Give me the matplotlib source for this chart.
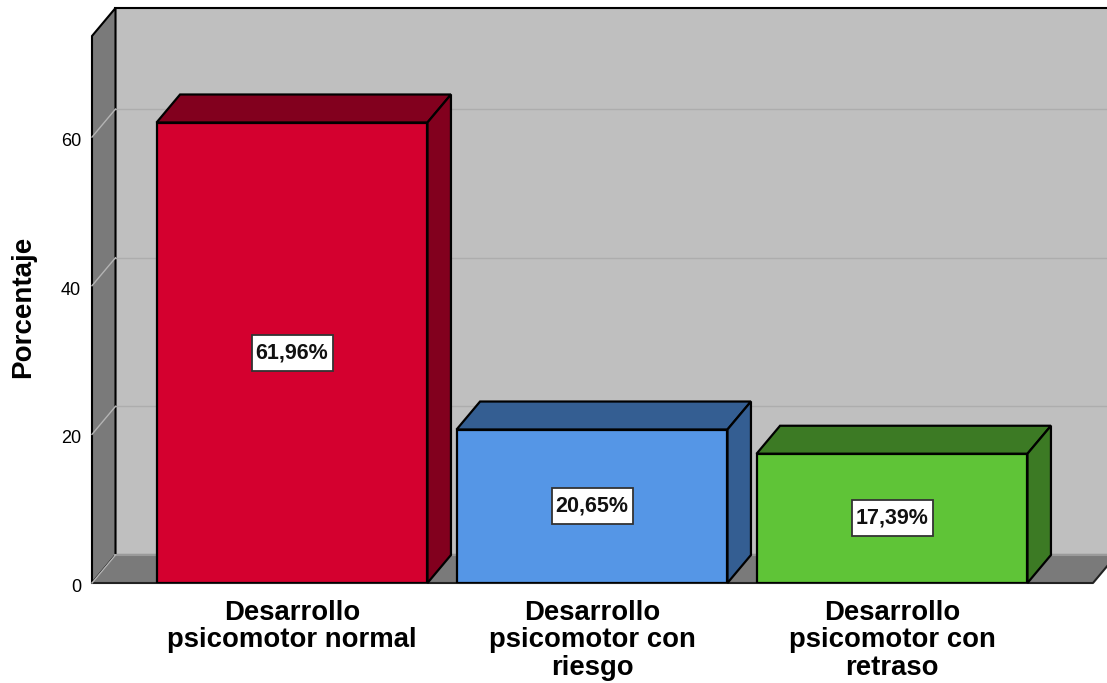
import matplotlib
matplotlib.use("Agg")
import matplotlib.pyplot as plt
from matplotlib.patches import Rectangle
from matplotlib.transforms import ScaledTranslation

plt.rcParams["font.family"] = ["Liberation Sans", "DejaVu Sans"]

categories = ["Desarrollo\npsicomotor normal", "Desarrollo\npsicomotor con\nriesgo", "Desarrollo\npsicomotor con\nretraso"]
values = [61.96, 20.65, 17.39]
labels = ["61,96%", "20,65%", "17,39%"]
front_colors = ["#d4002f", "#5596e6", "#5fc437"]
dark_colors = ["#82001e", "#345e92", "#3c7a24"]
y_ticks = [0, 20, 40, 60]

W, H = 1107, 683
fig = plt.figure(figsize=(W / 100, H / 100), dpi=100)
ax = fig.add_axes([92 / W, 1 - 583 / H, (1093 - 92) / W, (583 - 36) / H])

xmin, xmax = -0.6667, 2.67
ymin, ymax = 0, 73.6
# depth of the fake 3d box, in data units
dx = 23.5 / 300
dy = 28 / 7.43
bar_w = 0.903
box_w = 81 / 300
box_h = 36 / 7.43

wall = "#bfbfbf"
side = "#7a7a7a"

# back wall, left wall, floor
ax.fill([xmin + dx, xmax + dx, xmax + dx, xmin + dx], [dy, dy, ymax + dy, ymax + dy],
        color=wall, ec="black", lw=1.5, clip_on=False, zorder=1)
ax.fill([xmin, xmin + dx, xmin + dx, xmin], [ymin, dy, ymax + dy, ymax],
        fc=side, ec="black", lw=1.5, clip_on=False, zorder=2)
ax.fill([xmin, xmax, xmax + dx, xmin + dx], [ymin, ymin, dy, dy],
        fc=side, ec="none", clip_on=False, zorder=2)
ax.plot([xmin + dx, xmax + dx], [dy, dy], color="#9a9a9a", lw=1.5, clip_on=False, zorder=3)
ax.plot([xmin, xmax, xmax + dx], [0, 0, dy], color="#222222", lw=1.5, clip_on=False, zorder=3)

for t in y_ticks[1:]:
    ax.plot([xmin + dx, xmax + dx], [t + dy, t + dy], color="#adadad", lw=1, clip_on=False, zorder=3)
for t in y_ticks:
    ax.plot([xmin, xmin + dx], [t, t + dy], color="#b4b4b4", lw=1, clip_on=False, zorder=3)

for i, v in enumerate(values):
    l, r = i - bar_w / 2, i + bar_w / 2
    ax.bar(i, v, width=bar_w, color=front_colors[i], edgecolor="black", linewidth=1.6, zorder=6)
    ax.fill([l, l + dx, r + dx, r], [v, v + dy, v + dy, v], fc=dark_colors[i], ec="black",
            lw=1.6, clip_on=False, zorder=5)
    ax.fill([r, r + dx, r + dx, r], [0, dy, v + dy, v], fc=dark_colors[i], ec="black",
            lw=1.6, clip_on=False, zorder=5)
    ax.add_patch(Rectangle((i - box_w / 2, v / 2 - box_h / 2), box_w, box_h, fc="white",
                           ec="#333333", lw=1.3, zorder=7))
    ax.text(i, v / 2, labels[i], ha="center", va="center", fontsize=15.5, fontweight="bold",
            color="#111111", zorder=8)

ax.set_xlim(xmin, xmax)
ax.set_ylim(ymin, ymax)
ax.set_xticks(range(len(categories)))
ax.set_xticklabels(categories, fontsize=19.8, fontweight="bold", linespacing=1.08)
ax.set_yticks(y_ticks)
ax.tick_params(axis="x", length=0, pad=12)
ax.tick_params(axis="y", length=0, pad=8, labelsize=13)
for lab in ax.get_yticklabels():
    lab.set_transform(lab.get_transform() + ScaledTranslation(0, -0.025, fig.dpi_scale_trans))
ax.set_ylabel("Porcentaje", fontsize=20, fontweight="bold")
ax.yaxis.set_label_coords(-56 / (1093 - 92), (583 - 307) / (583 - 36))
for s in ax.spines.values():
    s.set_visible(False)
ax.patch.set_visible(False)

fig.savefig("out.png", dpi=100, facecolor="white")
